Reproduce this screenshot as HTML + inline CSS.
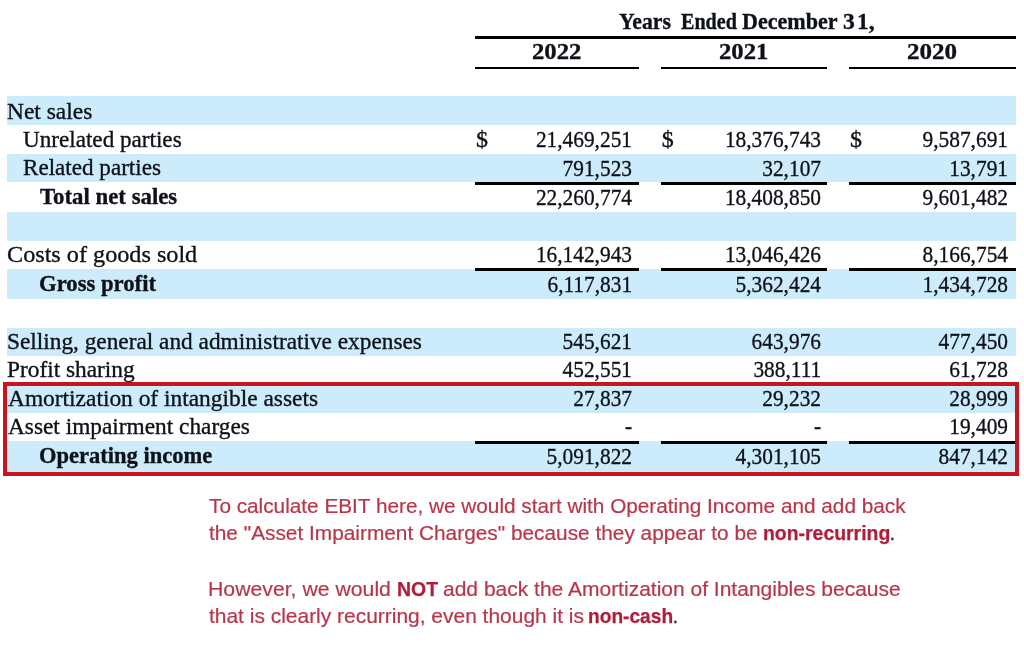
<!DOCTYPE html>
<html><head><meta charset="utf-8">
<style>
html,body{margin:0;padding:0;background:#fff;}
body{width:1024px;height:656px;position:relative;overflow:hidden;filter:blur(0.5px);}
.t{position:absolute;font-family:"Liberation Serif",serif;font-size:24px;color:#0e1218;-webkit-text-stroke:0.35px #0e1218;white-space:pre;line-height:1;transform-origin:0 0;}
.n{transform-origin:100% 0;transform:scaleX(0.89);}
.b{font-weight:bold;}
.band{position:absolute;left:6.5px;width:1009.2px;background:#ccecfc;}
.ln{position:absolute;background:#000;}
.box{position:absolute;left:3px;top:382px;width:1008px;height:86px;border-style:solid;border-color:#c8141e;border-width:4px 4px 4px 4px;}
.red{position:absolute;font-family:"Liberation Sans",sans-serif;font-size:20.5px;color:#b8364a;-webkit-text-stroke:0.2px #b8364a;white-space:pre;line-height:1;transform-origin:0 0;}
.rb{font-weight:bold;color:#b01c3a;-webkit-text-stroke:0.25px #b01c3a;}
.rp{color:#333;-webkit-text-stroke:0.3px #333;}
</style></head><body>
<div class="band" style="top:96.4px;height:29.0px"></div>
<div class="band" style="top:153.8px;height:28.5px"></div>
<div class="band" style="top:211.7px;height:29.0px"></div>
<div class="band" style="top:268.5px;height:30.8px"></div>
<div class="band" style="top:327.6px;height:28.2px"></div>
<div class="band" style="top:384.5px;height:28.2px"></div>
<div class="band" style="top:440.9px;height:31.1px"></div>
<div class="t" style="left:6.82px;top:98.60px;transform:scaleX(0.9767)">Net sales</div>
<div class="t" style="left:23.44px;top:126.90px;transform:scaleX(0.9638)">Unrelated parties</div>
<div class="t" style="left:22.84px;top:155.20px;transform:scaleX(0.9627)">Related parties</div>
<div class="t b" style="left:40.00px;top:183.60px;transform:scaleX(0.9500)">Total net sales</div>
<div class="t" style="left:6.79px;top:242.00px;transform:scaleX(1.0080)">Costs of goods sold</div>
<div class="t b" style="left:39.05px;top:270.60px;transform:scaleX(0.9455)">Gross profit</div>
<div class="t" style="left:6.56px;top:328.80px;transform:scaleX(0.9712)">Selling, general and administrative expenses</div>
<div class="t" style="left:6.83px;top:357.00px;transform:scaleX(0.9723)">Profit sharing</div>
<div class="t" style="left:7.80px;top:386.00px;transform:scaleX(0.9751)">Amortization of intangible assets</div>
<div class="t" style="left:7.80px;top:414.10px;transform:scaleX(0.9722)">Asset impairment charges</div>
<div class="t b" style="left:39.06px;top:442.60px;transform:scaleX(0.9388)">Operating income</div>
<div class="t n" style="right:392.20px;top:126.80px">21,469,251</div>
<div class="t n" style="right:203.10px;top:126.80px">18,376,743</div>
<div class="t n" style="right:15.80px;top:126.80px">9,587,691</div>
<div class="t n" style="right:392.20px;top:155.50px">791,523</div>
<div class="t n" style="right:203.10px;top:155.50px">32,107</div>
<div class="t n" style="right:15.80px;top:155.50px">13,791</div>
<div class="t n" style="right:392.20px;top:184.90px">22,260,774</div>
<div class="t n" style="right:203.10px;top:184.90px">18,408,850</div>
<div class="t n" style="right:15.80px;top:184.90px">9,601,482</div>
<div class="t n" style="right:392.20px;top:242.00px">16,142,943</div>
<div class="t n" style="right:203.10px;top:242.00px">13,046,426</div>
<div class="t n" style="right:15.80px;top:242.00px">8,166,754</div>
<div class="t n" style="right:392.20px;top:272.00px">6,117,831</div>
<div class="t n" style="right:203.10px;top:272.00px">5,362,424</div>
<div class="t n" style="right:15.80px;top:272.00px">1,434,728</div>
<div class="t n" style="right:392.20px;top:328.80px">545,621</div>
<div class="t n" style="right:203.10px;top:328.80px">643,976</div>
<div class="t n" style="right:15.80px;top:328.80px">477,450</div>
<div class="t n" style="right:392.20px;top:356.90px">452,551</div>
<div class="t n" style="right:203.10px;top:356.90px">388,111</div>
<div class="t n" style="right:15.80px;top:356.90px">61,728</div>
<div class="t n" style="right:392.20px;top:385.60px">27,837</div>
<div class="t n" style="right:203.10px;top:385.60px">29,232</div>
<div class="t n" style="right:15.80px;top:385.60px">28,999</div>
<div class="t n" style="right:392.20px;top:414.20px">-</div>
<div class="t n" style="right:203.10px;top:414.20px">-</div>
<div class="t n" style="right:15.80px;top:414.20px">19,409</div>
<div class="t n" style="right:392.20px;top:444.40px">5,091,822</div>
<div class="t n" style="right:203.10px;top:444.40px">4,301,105</div>
<div class="t n" style="right:15.80px;top:444.40px">847,142</div>
<div class="t b" style="left:618.60px;top:9.40px;transform:scaleX(0.9070)">Years</div>
<div class="t b" style="left:680.50px;top:9.40px;transform:scaleX(0.8388)">Ended</div>
<div class="t b" style="left:742.00px;top:9.40px;transform:scaleX(0.9202)">December</div>
<div class="t b" style="left:842.92px;top:9.40px;transform:scaleX(0.9800)">3</div>
<div class="t b" style="left:856.65px;top:9.40px;transform:scaleX(0.9733)">1,</div>
<div class="t b" style="left:531.87px;top:39.40px;transform:scaleX(1.0283)">2022</div>
<div class="t b" style="left:718.87px;top:39.40px;transform:scaleX(1.0283)">2021</div>
<div class="t b" style="left:907.36px;top:39.40px;transform:scaleX(1.0435)">2020</div>
<div class="red" style="left:208.50px;top:495.50px;transform:scaleX(1.0126)">To calculate EBIT here, we would start with Operating Income and add back</div>
<div class="red" style="left:208.50px;top:522.60px;transform:scaleX(1.0161)">the "Asset Impairment Charges" because they appear to be</div>
<div class="red rb" style="left:763.05px;top:522.60px;transform:scaleX(0.9470)">non-recurring</div>
<div class="red rp" style="left:889.60px;top:522.60px;transform:scaleX(1.0000)">.</div>
<div class="red" style="left:207.63px;top:578.50px;transform:scaleX(1.0356)">However, we would</div>
<div class="red rb" style="left:397.15px;top:578.50px;transform:scaleX(0.9476)">NOT</div>
<div class="red" style="left:443.38px;top:578.50px;transform:scaleX(1.0245)">add back the Amortization of Intangibles because</div>
<div class="red" style="left:208.50px;top:606.30px;transform:scaleX(1.0219)">that is clearly recurring, even though it is</div>
<div class="red rb" style="left:588.37px;top:606.30px;transform:scaleX(0.9337)">non-cash</div>
<div class="red rp" style="left:672.60px;top:606.30px;transform:scaleX(1.0000)">.</div>
<div class="t" style="left:476.00px;top:126.80px">$</div>
<div class="t" style="left:661.70px;top:126.80px">$</div>
<div class="t" style="left:849.90px;top:126.80px">$</div>
<div class="ln" style="left:475px;top:36px;width:540.7px;height:3px"></div>
<div class="ln" style="left:475px;top:67px;width:164.0px;height:2px"></div>
<div class="ln" style="left:661.3px;top:67px;width:165.7px;height:2px"></div>
<div class="ln" style="left:849px;top:67px;width:166.7px;height:2px"></div>
<div class="ln" style="left:475px;top:182px;width:164.0px;height:3px"></div>
<div class="ln" style="left:661.3px;top:182px;width:165.7px;height:3px"></div>
<div class="ln" style="left:849px;top:182px;width:166.7px;height:3px"></div>
<div class="ln" style="left:475px;top:268px;width:164.0px;height:3px"></div>
<div class="ln" style="left:661.3px;top:268px;width:165.7px;height:3px"></div>
<div class="ln" style="left:849px;top:268px;width:166.7px;height:3px"></div>
<div class="ln" style="left:475px;top:441px;width:164.0px;height:3px"></div>
<div class="ln" style="left:661.3px;top:441px;width:165.7px;height:3px"></div>
<div class="ln" style="left:849px;top:441px;width:166.7px;height:3px"></div>
<div class="box"></div>
</body></html>
